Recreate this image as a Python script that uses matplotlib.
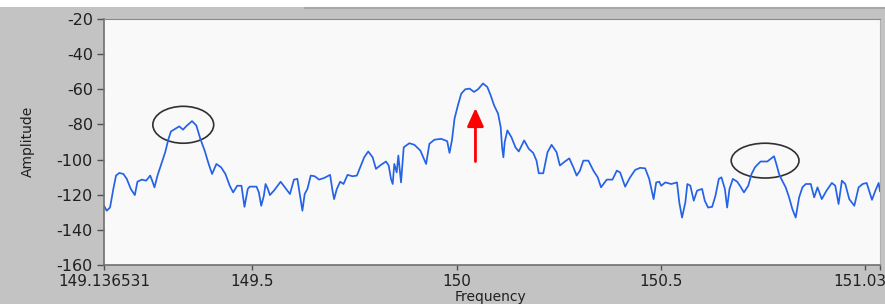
import matplotlib.pyplot as plt
from matplotlib.patches import Ellipse, Rectangle
from matplotlib.lines import Line2D
from matplotlib.transforms import ScaledTranslation

plt.rcParams['font.family'] = ['DejaVu Sans']
plt.rcParams['axes.unicode_minus'] = False

# Spektrum
freq_mhz = [
    149.1365, 149.1432, 149.1513, 149.1594, 149.1660, 149.1741, 149.1840, 149.1923,
    149.2021, 149.2120, 149.2184, 149.2292, 149.2397, 149.2496, 149.2545, 149.2601,
    149.2675, 149.2783, 149.2864, 149.2945, 149.3004, 149.3110, 149.3208, 149.3299,
    149.3380, 149.3520, 149.3626, 149.3724, 149.3830, 149.3928, 149.4012, 149.4117,
    149.4233, 149.4338, 149.4444, 149.4528, 149.4626, 149.4731, 149.4805, 149.4886,
    149.4935, 149.5100, 149.5157, 149.5215, 149.5279, 149.5321, 149.5378, 149.5427,
    149.5525, 149.5690, 149.5795, 149.5918, 149.6016, 149.6100, 149.6164, 149.6223,
    149.6279, 149.6346, 149.6427, 149.6525, 149.6631, 149.6753, 149.6901, 149.6960,
    149.6999, 149.7066, 149.7147, 149.7230, 149.7328, 149.7451, 149.7557, 149.7655,
    149.7736, 149.7835, 149.7943, 149.8024, 149.8147, 149.8270, 149.8336, 149.8392,
    149.8434, 149.8473, 149.8532, 149.8572, 149.8638, 149.8704, 149.8842, 149.8965,
    149.9112, 149.9252, 149.9333, 149.9456, 149.9621, 149.9768, 149.9825, 149.9884,
    149.9948, 150.0031, 150.0112, 150.0211, 150.0316, 150.0424, 150.0523, 150.0645,
    150.0751, 150.0832, 150.0916, 150.1014, 150.1078, 150.1112, 150.1144, 150.1176,
    150.1242, 150.1341, 150.1439, 150.1520, 150.1653, 150.1766, 150.1874, 150.1955,
    150.2011, 150.2120, 150.2225, 150.2324, 150.2446, 150.2528, 150.2650, 150.2758,
    150.2857, 150.2938, 150.3019, 150.3102, 150.3225, 150.3348, 150.3454, 150.3535,
    150.3675, 150.3815, 150.3921, 150.4002, 150.4125, 150.4247, 150.4370, 150.4493,
    150.4616, 150.4714, 150.4822, 150.4886, 150.4960, 150.5009, 150.5107, 150.5255,
    150.5395, 150.5451, 150.5518, 150.5599, 150.5648, 150.5722, 150.5805, 150.5886,
    150.6009, 150.6075, 150.6156, 150.6255, 150.6336, 150.6419, 150.6483, 150.6567,
    150.6623, 150.6680, 150.6763, 150.6869, 150.6950, 150.7034, 150.7139, 150.7220,
    150.7304, 150.7360, 150.7441, 150.7606, 150.7687, 150.7771, 150.7827, 150.7894,
    150.7957, 150.8056, 150.8139, 150.8220, 150.8301, 150.8385, 150.8466, 150.8547,
    150.8670, 150.8754, 150.8835, 150.8940, 150.9056, 150.9186, 150.9270, 150.9351,
    150.9432, 150.9515, 150.9613, 150.9736, 150.9842, 150.9940, 151.0039, 151.0169,
    151.0252, 151.0333, 151.0365,
]
amplitude_db = [
    -126.3, -129.1, -127.3, -116.7, -109.1, -107.6, -108.2, -111.0,
    -116.7, -120.2, -112.6, -111.4, -112.0, -109.1, -112.0, -115.8,
    -109.1, -101.5, -95.8, -88.2, -84.0, -82.5, -81.1, -83.0,
    -81.0, -78.1, -80.6, -88.2, -94.9, -102.5, -108.2, -102.5,
    -104.4, -108.2, -114.9, -118.7, -114.9, -114.9, -126.9, -116.7,
    -115.4, -115.4, -118.7, -126.3, -120.6, -113.9, -116.7, -120.2,
    -117.7, -112.6, -115.8, -119.6, -111.4, -111.0, -120.6, -129.1,
    -119.6, -116.7, -109.1, -109.5, -111.4, -110.5, -108.7, -117.7,
    -122.5, -116.7, -112.6, -113.9, -108.7, -109.5, -109.1, -103.4,
    -98.7, -95.4, -98.7, -105.3, -103.0, -101.1, -103.4, -111.0,
    -113.9, -102.5, -107.3, -97.7, -113.0, -93.0, -90.7, -91.6,
    -94.9, -102.5, -91.0, -88.7, -88.2, -89.5, -96.2, -89.1,
    -76.7, -69.1, -62.5, -60.0, -59.6, -61.5, -60.0, -56.7,
    -58.7, -63.4, -69.1, -73.9, -81.5, -93.0, -98.7, -90.1,
    -83.4, -87.3, -93.0, -95.4, -89.1, -93.9, -96.2, -100.6,
    -107.8, -107.8, -95.8, -91.6, -95.8, -103.4, -101.1, -99.3,
    -104.4, -109.1, -106.3, -100.6, -100.6, -106.3, -110.1, -115.8,
    -111.4, -111.4, -106.3, -107.3, -115.4, -110.1, -105.9, -104.7,
    -105.0, -111.0, -122.5, -113.0, -112.6, -114.9, -113.0, -113.9,
    -113.0, -124.4, -133.0, -124.4, -113.9, -114.9, -123.4, -117.7,
    -116.7, -123.4, -127.3, -126.9, -120.6, -111.0, -110.1, -116.7,
    -127.3, -116.7, -111.0, -112.6, -115.4, -118.7, -114.9, -108.2,
    -104.4, -103.0, -101.1, -101.1, -99.6, -98.1, -102.5, -108.2,
    -111.4, -115.8, -121.5, -128.2, -133.0, -121.5, -115.8, -113.9,
    -113.9, -121.5, -115.8, -122.5, -117.7, -113.3, -114.9, -125.3,
    -112.0, -113.9, -122.5, -126.3, -115.8, -113.9, -113.3, -122.9,
    -117.7, -113.3, -118.0,
]

x_ticks = [149.136531, 149.5, 150, 150.5, 151.0, 151.036531]
x_tick_labels = ['149.136531', '149.5', '150', '150.5', '', '151.03']
y_ticks = [-20, -40, -60, -80, -100, -120, -140, -160]

# markierte Nebenspitzen (Mitte MHz, Mitte dB, Breite MHz, Hoehe dB)
marked_freq = [149.3306, 150.7552]
marked_db = [-80.2, -100.6]
marked_w = [0.149, 0.166]
marked_h = [21.0, 19.8]

# roter Pfeil auf den Traeger
arrow_freq = 150.046
arrow_db = (-101.1, -70.7)

W, H = 885, 304
fig = plt.figure(figsize=(W / 100, H / 100), dpi=100, facecolor='#c3c3c3')

# weisser Streifen oben
fig.add_artist(Rectangle((0, 1 - 7 / H), 1, 7 / H, transform=fig.transFigure,
                         facecolor='white', edgecolor='none'))
fig.add_artist(Line2D([305 / W, 1], [1 - 8 / H] * 2, transform=fig.transFigure,
                      color='#a8a8a8', lw=1.5))

ax = fig.add_axes([104 / W, 1 - 265 / H, (880 - 104) / W, (265 - 19) / H])
ax.set_facecolor('#f9f9f9')

ax.plot(freq_mhz, amplitude_db, color='#2462e6', lw=1.25)

for fx, fy, w, h in zip(marked_freq, marked_db, marked_w, marked_h):
    ax.add_patch(Ellipse((fx, fy), w, h, fill=False, edgecolor='#303030', lw=1.2))

ax.annotate('', xy=(arrow_freq, arrow_db[1]), xytext=(arrow_freq, arrow_db[0]),
            arrowprops=dict(arrowstyle='-|>,head_length=0.55,head_width=0.25',
                            color='#ff0000', lw=2, mutation_scale=20,
                            shrinkA=0, shrinkB=0))

ax.set_xlim(149.136531, 151.036531)
ax.set_ylim(-160, -20)
ax.set_xticks(x_ticks)
ax.set_xticklabels(x_tick_labels)
ax.set_yticks(y_ticks)

ax.tick_params(axis='both', direction='out', color='#505050', labelcolor='#202020',
               width=1)
ax.tick_params(axis='y', length=5, pad=3, labelsize=11.5)
ax.tick_params(axis='x', length=3.5, pad=3, labelsize=11)

# letzte Beschriftung am rechten Rand buendig
last = ax.get_xticklabels()[-1]
last.set_ha('right')
last.set_transform(last.get_transform() + ScaledTranslation(6 / 100, 0, fig.dpi_scale_trans))

for side in ['left', 'bottom']:
    ax.spines[side].set_color('#707070')
    ax.spines[side].set_linewidth(1.2)
ax.spines['top'].set_color('#8a8a8a')
ax.spines['right'].set_color('#b0b0b0')

fig.text(28 / W, 1 - 141 / H, 'Amplitude', rotation=90, ha='center', va='center',
         fontsize=10, color='#202020')
fig.text(490 / W, 1 - 301 / H, 'Frequency', ha='center', va='baseline',
         fontsize=10, color='#202020')

fig.savefig('out.png', dpi=100, facecolor=fig.get_facecolor())
